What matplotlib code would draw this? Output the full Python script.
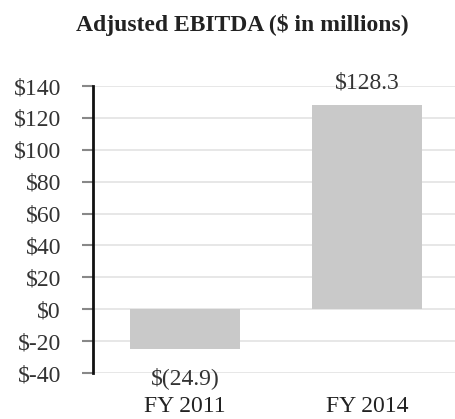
import matplotlib
matplotlib.use("Agg")
import matplotlib.pyplot as plt

categories = ["FY 2011", "FY 2014"]
values = [-24.9, 128.3]
value_labels = ["$(24.9)", "$128.3"]
yticks = [-40, -20, 0, 20, 40, 60, 80, 100, 120, 140]
ytick_labels = ["$-40", "$-20", "$0", "$20", "$40", "$60", "$80", "$100", "$120", "$140"]

plt.rcParams['font.family'] = ['Liberation Serif', 'DejaVu Serif']

fig = plt.figure(figsize=(4.55, 4.19), dpi=100)
ax = fig.add_axes([93/455, 1-373/419, 1-93/455, (373-86)/419])

x = list(range(len(categories)))
ax.bar(x, values, width=0.6, color="#c9c9c9", zorder=2)
ax.set_xlim(-0.505, 1.484)
ax.set_ylim(-40, 140)
ax.set_yticks(yticks)
ax.set_yticklabels(ytick_labels, fontsize=17, color="#333333")
ax.set_xticks([])
ax.yaxis.grid(True, color="#e3e3e3", linewidth=1.2, zorder=0)
ax.set_axisbelow(True)
for s in ["top", "right", "bottom"]:
    ax.spines[s].set_visible(False)
ax.spines["left"].set_linewidth(2)
ax.spines["left"].set_color("#111111")
ax.tick_params(axis="y", length=8, width=1.5, color="#888888", pad=15)

for xi, v, lab in zip(x, values, value_labels):
    if v >= 0:
        ax.text(xi, v + 13.5, lab, ha="center", va="center", fontsize=17, color="#333333")
    else:
        ax.text(xi, -43, lab, ha="center", va="center", fontsize=17, color="#333333")

for xi, c in zip(x, categories):
    ax.text(xi, -61, c, ha="center", va="center", fontsize=17, color="#222222")

fig.text(242/455, 1-25/419, "Adjusted EBITDA ($ in millions)", ha="center", va="center",
         fontsize=17, fontweight="bold", color="#222222")

fig.savefig("out.png", dpi=100)
